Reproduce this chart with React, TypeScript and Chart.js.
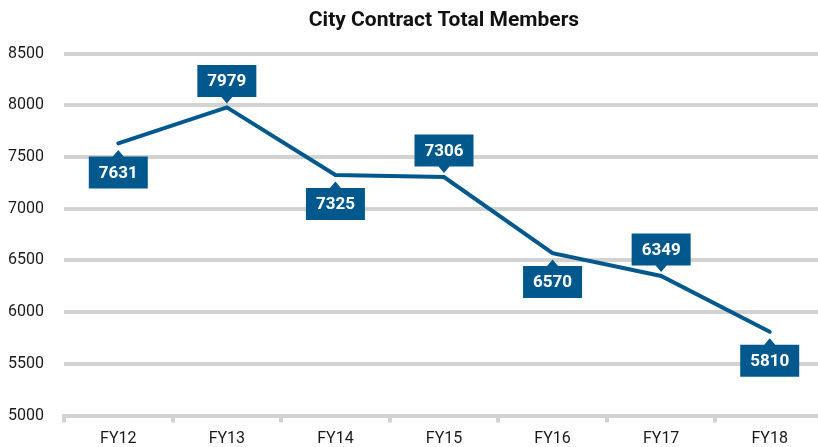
import React, { useEffect, useRef } from "react";
import { Chart, registerables } from "chart.js";

Chart.register(...registerables);

const categories = ["FY12", "FY13", "FY14", "FY15", "FY16", "FY17", "FY18"];
const members = [7631, 7979, 7325, 7306, 6570, 6349, 5810];
const yMin = 5000;
const yMax = 8500;
const yStep = 500;
const titleText = "City Contract Total Members";

const BLUE = "#00588c";
const GRID = "#d2d2d2";
const FONT = "Roboto, 'DejaVu Sans', sans-serif";

const labelPlugin = {
  id: "boxLabels",
  afterDatasetsDraw(chart: any) {
    const ctx = chart.ctx;
    const meta = chart.getDatasetMeta(0);
    const data = chart.data.datasets[0].data as number[];
    ctx.save();
    meta.data.forEach((pt: any, i: number) => {
      const x = pt.x;
      const y = pt.y;
      const above = i % 2 === 1;
      const w = 59;
      const h = 32;
      const tw = 5.5;
      let boxTop: number;
      ctx.fillStyle = BLUE;
      ctx.beginPath();
      if (above) {
        const bottom = y - 10.5;
        boxTop = bottom - h;
        ctx.rect(x - w / 2, boxTop, w, h);
        ctx.moveTo(x - tw, bottom);
        ctx.lineTo(x + tw, bottom);
        ctx.lineTo(x, y - 4);
        ctx.closePath();
      } else {
        boxTop = y + 13;
        ctx.rect(x - w / 2, boxTop, w, h);
        ctx.moveTo(x - tw, boxTop);
        ctx.lineTo(x + tw, boxTop);
        ctx.lineTo(x, y + 6.5);
        ctx.closePath();
      }
      ctx.fill();
      ctx.fillStyle = "#ffffff";
      ctx.font = `bold 17px ${FONT}`;
      ctx.textAlign = "center";
      ctx.textBaseline = "middle";
      ctx.fillText(String(data[i]), x, boxTop + h / 2 + 1);
    });
    ctx.restore();
  },
};

export default function App() {
  const ref = useRef<HTMLCanvasElement | null>(null);
  useEffect(() => {
    if (!ref.current) return;
    const chart = new Chart(ref.current, {
      type: "line",
      data: {
        labels: categories,
        datasets: [
          {
            data: members,
            borderColor: BLUE,
            borderWidth: 4,
            pointRadius: 0,
            tension: 0,
            borderCapStyle: "round",
            fill: false,
          },
        ],
      },
      options: {
        responsive: false,
        animation: false,
        devicePixelRatio: 1,
        layout: { padding: { left: 8, right: 0, top: 0, bottom: 0 } },
        plugins: {
          legend: { display: false },
          tooltip: { enabled: false },
          title: {
            display: true,
            text: titleText,
            fullSize: false,
            color: "#111",
            font: { family: FONT, size: 21, weight: "bold" },
            padding: { top: 8, bottom: 20.3 },
          },
        },
        scales: {
          x: {
            offset: true,
            afterFit: (s: any) => {
              s.height = 31.5;
            },
            grid: {
              offset: true,
              drawOnChartArea: false,
              drawTicks: true,
              tickLength: 7,
              color: GRID,
              lineWidth: 4,
            },
            border: { display: true, color: GRID, width: 4 },
            ticks: {
              color: "#1a1a1a",
              font: { family: FONT, size: 16, lineHeight: 1 },
              padding: 8.5,
            },
          },
          y: {
            min: yMin,
            max: yMax,
            afterFit: (s: any) => {
              s.width = 56;
            },
            ticks: {
              stepSize: yStep,
              color: "#1a1a1a",
              font: { family: FONT, size: 16 },
              padding: 20,
              callback: (v: any) => String(v),
            },
            grid: { color: GRID, lineWidth: 4, drawTicks: false },
            border: { display: false },
          },
        },
      },
      plugins: [labelPlugin],
    });
    return () => chart.destroy();
  }, []);
  return (
    <div
      style={{
        position: "fixed",
        left: 0,
        top: 0,
        width: 818,
        height: 447,
        overflow: "hidden",
        background: "#fff",
      }}
    >
      <canvas ref={ref} width={824} height={447} style={{ display: "block" }} />
    </div>
  );
}
